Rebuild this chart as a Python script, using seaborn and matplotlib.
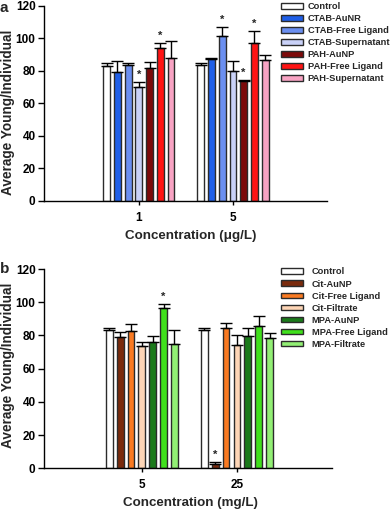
import numpy as np
import pandas as pd
import matplotlib
matplotlib.use("Agg")
import matplotlib.pyplot as plt
import seaborn as sns
from matplotlib.patches import Patch

# panel a data
conc_a = ["1", "5"]
groups_a = ["Control", "CTAB-AuNR", "CTAB-Free Ligand", "CTAB-Supernatant",
            "PAH-AuNP", "PAH-Free Ligand", "PAH-Supernatant"]
colors_a = ["#ffffff", "#1f5fe8", "#6b8ff0", "#c9d1f7", "#7d0a0a", "#ff1414", "#f8a3c3"]
mean_a_1 = [83.0, 79.3, 83.2, 69.7, 81.8, 93.8, 87.9]
err_a_1 = [1.8, 6.7, 1.8, 3.2, 3.5, 3.1, 10.4]
mean_a_5 = [83.2, 87.3, 101.2, 79.7, 73.7, 96.9, 86.5]
err_a_5 = [1.6, 0.5, 5.6, 6.1, 0.7, 7.6, 3.2]
star_a_1 = [0, 0, 0, 1, 0, 1, 0]
star_a_5 = [0, 0, 1, 0, 1, 1, 0]

# panel b data
conc_b = ["5", "25"]
groups_b = ["Control", "Cit-AuNP", "Cit-Free Ligand", "Cit-Filtrate",
            "MPA-AuNP", "MPA-Free Ligand", "MPA-Filtrate"]
colors_b = ["#ffffff", "#7a2a0c", "#f97a22", "#fdd5b6", "#1a7a1a", "#40e01c", "#92ef74"]
mean_b_5 = [83.1, 78.9, 82.9, 73.6, 75.9, 96.3, 74.7]
err_b_5 = [1.6, 3.0, 4.2, 2.7, 4.0, 2.6, 8.4]
mean_b_25 = [83.1, 2.8, 84.3, 74.4, 79.8, 85.9, 78.6]
err_b_25 = [1.6, 1.2, 3.2, 5.6, 4.7, 5.8, 2.7]
star_b_5 = [0, 0, 0, 0, 0, 1, 0]
star_b_25 = [0, 1, 0, 0, 0, 0, 0]

sns.set_style("ticks")
plt.rcParams['font.family'] = ['Liberation Sans', 'DejaVu Sans']
plt.rcParams['font.weight'] = 'bold'
plt.rcParams['axes.labelweight'] = 'bold'

fig = plt.figure(figsize=(3.92, 5.12), dpi=100)
ax_a = fig.add_axes([0.112, 0.608, 0.722, 0.381])
ax_b = fig.add_axes([0.112, 0.0854, 0.735, 0.389])


def draw(ax, conc, groups, colors, means, errs, stars, xlabel, xlim):
    df = pd.DataFrame({
        "conc": np.repeat(conc, len(groups)),
        "group": groups * len(conc),
        "value": np.concatenate(means),
    })
    sns.barplot(data=df, x="conc", y="value", hue="group", order=conc, hue_order=groups,
                palette=dict(zip(groups, colors)), width=0.8, gap=0.37, saturation=1,
                edgecolor="#2b2b2b", linewidth=1, errorbar=None, legend=False, ax=ax)
    # error bars (upper only) and significance stars
    bar_conts = list(ax.containers)
    for gi, cont in enumerate(bar_conts):
        for ci, bar in enumerate(cont):
            x = bar.get_x() + bar.get_width() / 2
            h = bar.get_height()
            e = errs[ci][gi]
            ax.errorbar(x, h, yerr=[[0], [e]], fmt="none", ecolor="black",
                        elinewidth=1, capsize=4.5, capthick=1)
            if stars[ci][gi]:
                ax.annotate("*", (x, h + e), xytext=(0, 1.5), textcoords="offset points",
                            ha="center", va="bottom", fontsize=8, fontweight="bold")
    ax.set_ylim(0, 120)
    ax.set_yticks(range(0, 121, 20))
    ax.set_xlim(*xlim)
    sns.despine(ax=ax)
    for s in ["left", "bottom"]:
        ax.spines[s].set_color("black")
        ax.spines[s].set_linewidth(1)
    ax.tick_params(axis="y", direction="out", length=4.5, width=1, pad=1.5, labelsize=8.5, colors="black")
    ax.tick_params(axis="x", direction="out", length=3, width=1, pad=5, labelsize=8.5, colors="black")
    ax.set_ylabel("Average Young/Individual", fontsize=9.8)
    ax.set_xlabel(xlabel, fontsize=9.6)
    handles = [Patch(facecolor=c, edgecolor="#2b2b2b", linewidth=1) for c in colors]
    return handles


h_a = draw(ax_a, conc_a, groups_a, colors_a, [mean_a_1, mean_a_5], [err_a_1, err_a_5],
           [star_a_1, star_a_5], "Concentration (\u03bcg/L)", (-1.01, 2.0))
h_b = draw(ax_b, conc_b, groups_b, colors_b, [mean_b_5, mean_b_25], [err_b_5, err_b_25],
           [star_b_5, star_b_25], "Concentration (mg/L)", (-1.03, 2.0))

ax_a.yaxis.set_label_coords(-0.102, 0.454)
ax_b.yaxis.set_label_coords(-0.100, 0.516)
ax_a.xaxis.set_label_coords(0.52, -0.15)
ax_b.xaxis.set_label_coords(0.507, -0.145)

fig.legend(h_a, groups_a, loc="upper left", bbox_to_anchor=(281 / 392, 1 - 2 / 512),
           frameon=False, fontsize=6.7, borderpad=0, borderaxespad=0,
           handlelength=2.4, handleheight=0.55, handletextpad=0.45, labelspacing=0.33)
fig.legend(h_b, groups_b, loc="upper left", bbox_to_anchor=(281 / 392, 1 - 267.5 / 512),
           frameon=False, fontsize=6.7, borderpad=0, borderaxespad=0,
           handlelength=2.4, handleheight=0.55, handletextpad=0.9, labelspacing=0.33)

fig.text(0.0, 1 - 12.5 / 512, "a", fontsize=11, fontweight="bold", va="baseline")
fig.text(0.0, 1 - 273 / 512, "b", fontsize=11, fontweight="bold", va="baseline")

fig.savefig("out.png", dpi=100)
